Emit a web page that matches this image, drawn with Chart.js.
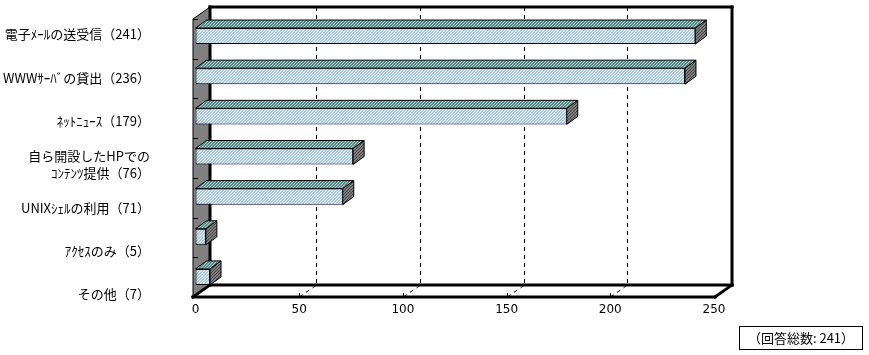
<!DOCTYPE html>
<html><head><meta charset="utf-8">
<script src="https://cdn.jsdelivr.net/npm/chart.js@4/dist/chart.umd.min.js"></script>
<style>
html,body{margin:0;padding:0;background:#fff;}
#wrap{position:relative;width:869px;height:355px;}
#note{position:absolute;left:739px;top:326px;width:124px;height:24px;box-sizing:border-box;border:1px solid #000;font-family:"Noto Sans CJK JP";font-size:13px;line-height:22px;text-align:center;color:#000;white-space:nowrap;}
</style></head><body>
<div id="wrap"><canvas id="c" width="869" height="355"></canvas><div id="note">（回答総数: 241）</div></div>
<script>
// ---- data ----
const categoryNames = [
  ['電子ﾒｰﾙの送受信'],
  ['WWWｻｰﾊﾞの貸出'],
  ['ﾈｯﾄﾆｭｰｽ'],
  ['自ら開設したHPでの', 'ｺﾝﾃﾝﾂ提供'],
  ['UNIXｼｪﾙの利用'],
  ['ｱｸｾｽのみ'],
  ['その他']
];
const values = [241, 236, 179, 76, 71, 5, 7];
const xTicks = [0, 50, 100, 150, 200, 250];

const categoryLabels = categoryNames.map((lines, i) => {
  const out = lines.slice();
  out[out.length - 1] = out[out.length - 1] + '（' + values[i] + '）';
  return out;
});

// ---- styling helpers ----
const DX = 17, DY = -12;     // wall depth
const BDX = 11, BDY = -8;    // bar depth
function makePattern(base, stripe, period) {
  const c = document.createElement('canvas');
  c.width = period; c.height = period;
  const g = c.getContext('2d');
  g.fillStyle = base; g.fillRect(0, 0, period, period);
  g.fillStyle = stripe;
  for (let x = 0; x < period; x++) {
    const y = (period - x) % period;
    g.fillRect(x, y, 1, 1);
  }
  return g.createPattern(c, 'repeat');
}
const frontPat = makePattern('#a6caf0', '#ffffff', 3);
const topPat = makePattern('#5a8c8c', '#a9cdcd', 3);
const sidePat = makePattern('#808080', '#404040', 3);

function line(ctx, x1, y1, x2, y2) {
  ctx.beginPath(); ctx.moveTo(x1, y1); ctx.lineTo(x2, y2); ctx.stroke();
}

const threeD = {
  id: 'threeD',
  beforeDatasetsDraw(chart) {
    const { ctx, chartArea: ca, scales } = chart;
    const x = scales.x;
    const fx = ca.left - 2.5, ft = ca.top + 3, fb = ca.bottom, fr = ca.right + 1;
    const bx = fx + DX, bt = ft + DY, bb = fb + DY, br = fr + DX;
    ctx.save();
    // left wall
    ctx.fillStyle = '#808080';
    ctx.beginPath();
    ctx.moveTo(fx, ft); ctx.lineTo(bx, bt); ctx.lineTo(bx, bb); ctx.lineTo(fx, fb);
    ctx.closePath(); ctx.fill();
    ctx.strokeStyle = '#000'; ctx.lineWidth = 1; ctx.stroke();
    // category ticks on wall
    const n = values.length;
    for (let k = 0; k <= n; k++) {
      const y = Math.round(ft + k * (fb - ft) / n) + 0.5;
      line(ctx, fx, y, fx + 5, y);
    }
    // dashed gridlines on back wall and floor
    ctx.setLineDash([4, 4]);
    xTicks.slice(1, -1).forEach(v => {
      const px = Math.round(x.getPixelForValue(v)) + 0.5;
      line(ctx, px + DX, bt, px + DX, bb);
      line(ctx, px, fb, px + DX, bb);
    });
    ctx.setLineDash([]);
    // floor front ticks
    xTicks.slice(1, -1).forEach(v => {
      const px = Math.round(x.getPixelForValue(v)) + 0.5;
      line(ctx, px, fb - 4, px, fb);
    });
    // thick frame
    ctx.lineWidth = 3;
    ctx.lineCap = 'square';
    line(ctx, bx, bt, br, bt);
    line(ctx, br, bt, br, bb);
    line(ctx, bx, bb, br, bb);
    line(ctx, bx, bt, bx, bb);
    line(ctx, fx, fb, fr, fb);
    line(ctx, fr, fb, br, bb);
    line(ctx, fx, fb, bx, bb);
    ctx.restore();
  },
  afterDatasetsDraw(chart) {
    const { ctx } = chart;
    const meta = chart.getDatasetMeta(0);
    ctx.save();
    ctx.strokeStyle = '#000'; ctx.lineWidth = 1; ctx.lineJoin = 'miter';
    meta.data.forEach(bar => {
      const p = bar.getProps(['x', 'y', 'base', 'height'], true);
      const l = p.base, r = p.x, t = p.y - p.height / 2, b = p.y + p.height / 2;
      // top face
      ctx.fillStyle = topPat;
      ctx.beginPath();
      ctx.moveTo(l, t); ctx.lineTo(l + BDX, t + BDY); ctx.lineTo(r + BDX, t + BDY); ctx.lineTo(r, t);
      ctx.closePath(); ctx.fill(); ctx.stroke();
      // side face
      ctx.fillStyle = sidePat;
      ctx.beginPath();
      ctx.moveTo(r, t); ctx.lineTo(r + BDX, t + BDY); ctx.lineTo(r + BDX, b + BDY); ctx.lineTo(r, b);
      ctx.closePath(); ctx.fill(); ctx.stroke();
    });
    ctx.restore();
  }
};

new Chart(document.getElementById('c'), {
  type: 'bar',
  data: {
    labels: categoryLabels,
    datasets: [{
      data: values,
      xAxisID: 'x',
      yAxisID: 'y',
      backgroundColor: frontPat,
      borderColor: '#000',
      borderWidth: 1,
      borderSkipped: false,
      barPercentage: 0.4,
      categoryPercentage: 1.0
    }]
  },
  options: {
    indexAxis: 'y',
    responsive: false,
    animation: false,
    devicePixelRatio: 1,
    layout: { padding: { top: 16, right: 155, left: 0, bottom: 0 } },
    plugins: { legend: { display: false }, tooltip: { enabled: false } },
    scales: {
      x: {
        type: 'linear', position: 'bottom', min: 0, max: 250,
        afterBuildTicks: axis => { axis.ticks = xTicks.map(v => ({ value: v })); },
        afterFit: s => { s.height = 58; },
        grid: { display: false, drawTicks: false },
        border: { display: false },
        ticks: { padding: 6, color: '#000', font: { family: 'DejaVu Sans', size: 12 }, maxRotation: 0 }
      },
      y: {
        type: 'category', position: 'left', weight: 0, offset: true,
        afterFit: s => { s.width = 45.5; },
        grid: { display: false, drawTicks: false },
        border: { display: false },
        ticks: { display: false }
      },
      yl: {
        type: 'linear', position: 'left', weight: 10, reverse: true, offset: false,
        min: -0.4245, max: 6.059,
        afterBuildTicks: axis => { axis.ticks = categoryLabels.map((_, i) => ({ value: i })); },
        afterFit: s => { s.width = 150; },
        grid: { display: false, drawTicks: false, offset: false },
        border: { display: false },
        ticks: {
          autoSkip: false, padding: 0, color: '#000',
          font: { family: 'Noto Sans CJK JP', size: 13, lineHeight: 1.3 },
          callback: v => categoryLabels[v]
        }
      }
    }
  },
  plugins: [threeD]
});
</script>
</body></html>
